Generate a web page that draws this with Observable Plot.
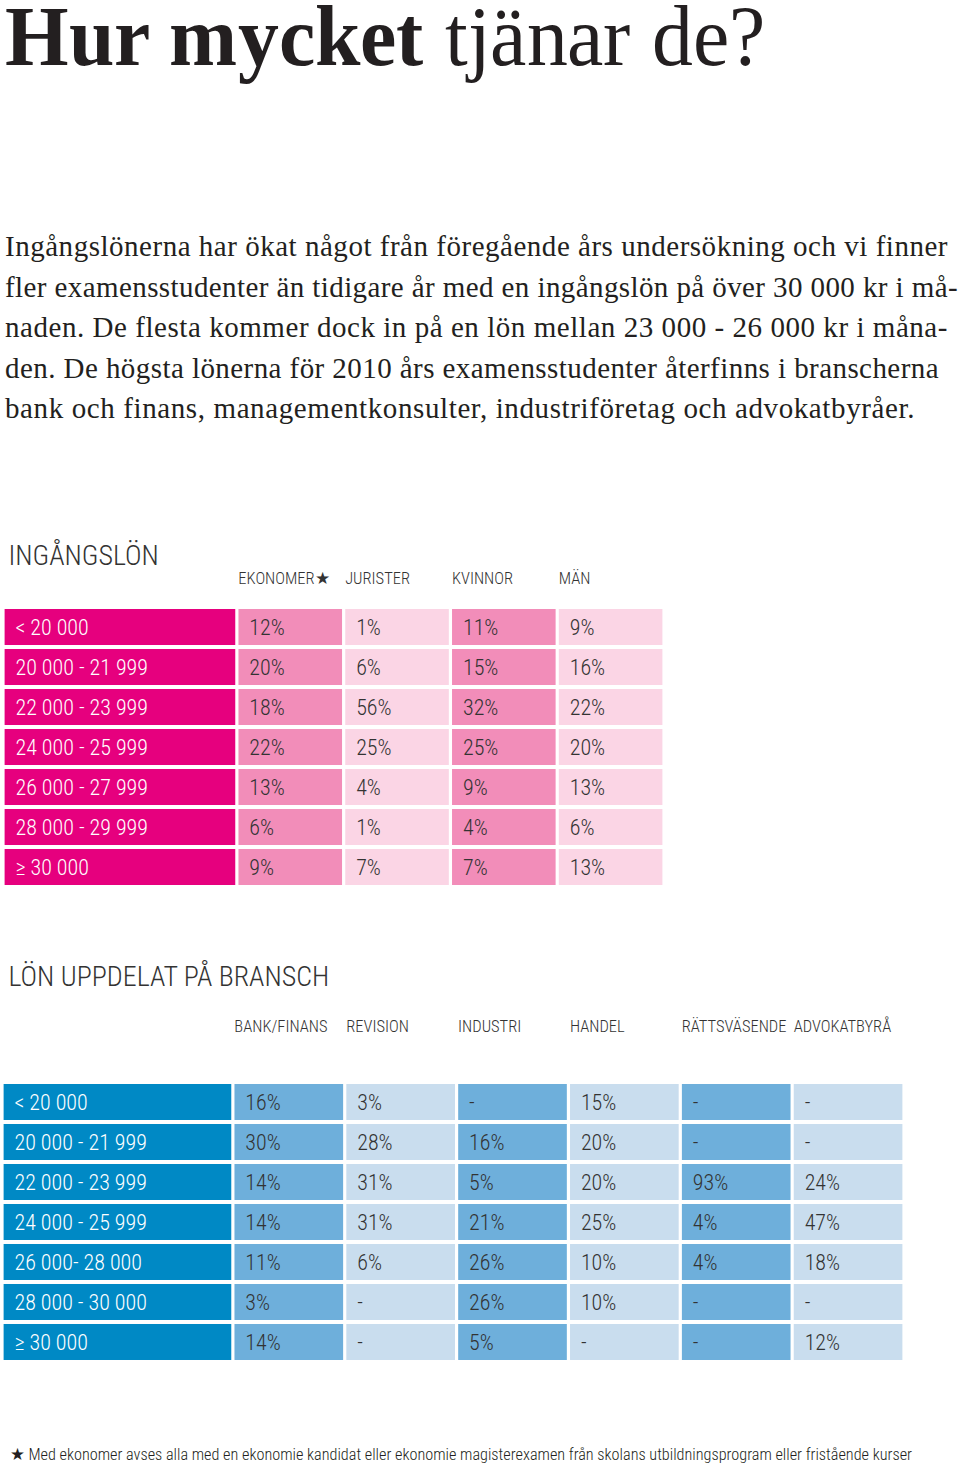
<!DOCTYPE html>
<html><head><meta charset="utf-8">
<script src="https://cdn.jsdelivr.net/npm/d3@7"></script>
<script src="https://cdn.jsdelivr.net/npm/@observablehq/plot@0.6"></script>
<style>
@font-face{font-family:"TitleSerif";src:local("Liberation Serif"),local("LiberationSerif");font-weight:400;ascent-override:70%;descent-override:25%;line-gap-override:0%;}
@font-face{font-family:"TitleSerif";src:local("Liberation Serif Bold"),local("LiberationSerif-Bold");font-weight:700;ascent-override:70%;descent-override:25%;line-gap-override:0%;}
body{margin:0;background:#fff;width:960px;height:1468px;position:relative;overflow:hidden;}
.abs{position:absolute;left:0;}
#title{font-family:"TitleSerif","Liberation Serif","DejaVu Serif",serif;font-size:86px;line-height:normal;color:#231f20;white-space:nowrap;transform-origin:0 0;}
#title b{font-weight:700;}
#para .line{font-family:"Liberation Serif","DejaVu Serif",serif;font-size:29px;line-height:40.5px;height:40.5px;white-space:nowrap;color:#231f20;}
#note{font-family:"Roboto Condensed",Roboto,sans-serif;font-weight:300;font-size:16.5px;line-height:20px;white-space:nowrap;color:#231f20;transform-origin:0 50%;}
</style></head><body>
<div id="title" class="abs" style="left:5px;top:5px"><b>Hur mycket</b> tjänar de?</div>
<div id="para" class="abs" style="left:5px;top:226px"></div>
<div id="chart1" class="abs" style="top:520px"></div>
<div id="chart2" class="abs" style="top:940px"></div>
<div id="note" class="abs" style="left:10px;top:1445px"></div>
<script>
// ---------- text ----------
const paragraphLines = [
  "Ingångslönerna har ökat något från föregående års undersökning och vi finner",
  "fler examensstudenter än tidigare år med en ingångslön på över 30 000 kr i må-",
  "naden. De flesta kommer dock in på en lön mellan 23 000 - 26 000 kr i måna-",
  "den. De högsta lönerna för 2010 års examensstudenter återfinns i branscherna",
  "bank och finans, managementkonsulter, industriföretag och advokatbyråer."
];
const footnote = "★ Med ekonomer avses alla med en ekonomie kandidat eller ekonomie magisterexamen från skolans utbildningsprogram eller fristående kurser";

// ---------- table 1: Ingångslön ----------
const title1 = "INGÅNGSLÖN";
const bands1 = ["< 20 000", "20 000 - 21 999", "22 000 - 23 999", "24 000 - 25 999", "26 000 - 27 999", "28 000 - 29 999", "≥ 30 000"];
const groups1 = ["EKONOMER★", "JURISTER", "KVINNOR", "MÄN"];
const ekonomer = [12, 20, 18, 22, 13, 6, 9];
const jurister = [1, 6, 56, 25, 4, 1, 7];
const kvinnor  = [11, 15, 32, 25, 9, 4, 7];
const man      = [9, 16, 22, 20, 13, 6, 13];

// ---------- table 2: Lön uppdelat på bransch ----------
const title2 = "LÖN UPPDELAT PÅ BRANSCH";
const bands2 = ["< 20 000", "20 000 - 21 999", "22 000 - 23 999", "24 000 - 25 999", "26 000- 28 000", "28 000 - 30 000", "≥ 30 000"];
const sectors = ["BANK/FINANS", "REVISION", "INDUSTRI", "HANDEL", "RÄTTSVÄSENDE", "ADVOKATBYRÅ"];
const bankFinans   = [16, 30, 14, 14, 11, 3, 14];
const revision     = [3, 28, 31, 31, 6, null, null];
const industri     = [null, 16, 5, 21, 26, 26, 5];
const handel       = [15, 20, 20, 25, 10, 10, null];
const rattsvasende = [null, null, 93, 4, 4, null, null];
const advokatbyra  = [null, null, 24, 47, 18, null, 12];

// ---------- paragraph (each line justified to its measured width) ----------
const para = document.getElementById("para");
const lineTargets = [943, 953, 943, 934, 910];
paragraphLines.forEach((t, i) => {
  const div = document.createElement("div");
  div.className = "line";
  const span = document.createElement("span");
  span.textContent = t;
  div.appendChild(span);
  para.appendChild(div);
  const w = span.getBoundingClientRect().width;
  span.style.letterSpacing = ((lineTargets[i] - w) / t.length) + "px";
});

// ---------- footnote / title fit ----------
const note = document.getElementById("note");
note.textContent = footnote;
{
  const w = note.getBoundingClientRect().width;
  note.style.transform = `scaleX(${902 / w})`;
}
{
  const t = document.getElementById("title");
  const w = t.getBoundingClientRect().width;
  t.style.transform = `scaleX(${760 / w})`;
}

// ---------- tables ----------
function buildCells(rows, cols, series, labelSpan) {
  const cells = [];
  rows.forEach((r, i) => {
    cells.push({row: r, x1: 0, x2: labelSpan, tone: "label", text: r});
    cols.forEach((c, k) => {
      const v = series[k][i];
      cells.push({row: r, x1: labelSpan + k, x2: labelSpan + k + 1, tone: k % 2 ? "light" : "mid", text: v == null ? "-" : v + "%"});
    });
  });
  return cells;
}

const tableFont = "'Roboto Condensed', Roboto, 'Liberation Sans', sans-serif";

function table({title, rows, cols, series, labelSpan, colors, marginLeft, marginRight, marginTop, marginBottom, rowPitch, titleDx, titleDy, headDy}) {
  const cells = buildCells(rows, cols, series, labelSpan);
  return Plot.plot({
    width: 960,
    height: marginTop + rows.length * rowPitch + marginBottom,
    marginLeft, marginRight, marginTop, marginBottom,
    x: {domain: [0, labelSpan + cols.length], axis: null},
    y: {domain: rows, axis: null, padding: 0},
    color: {domain: ["label", "mid", "light"], range: colors},
    style: {fontFamily: tableFont, background: "#fff", color: "#333"},
    marks: [
      Plot.barX(cells, {x1: "x1", x2: "x2", y: "row", fill: "tone", insetLeft: 1.6, insetRight: 1.6, insetTop: 2, insetBottom: 2}),
      Plot.text(cells.filter(d => d.tone === "label"), {x: "x1", y: "row", text: "text", textAnchor: "start", lineAnchor: "middle", dx: 12, fill: "#fff", fontSize: 22, fontWeight: 300}),
      Plot.text(cells.filter(d => d.tone !== "label"), {x: "x1", y: "row", text: "text", textAnchor: "start", lineAnchor: "middle", dx: 12, fill: "#333", fontSize: 22, fontWeight: 300}),
      Plot.text(cols, {x: c => labelSpan + cols.indexOf(c), text: c => c, frameAnchor: "top", lineAnchor: "middle", dy: headDy, dx: 1, textAnchor: "start", fill: "#333", fontSize: 16.5, fontWeight: 300}),
      Plot.text([title], {text: d => d, frameAnchor: "top-left", lineAnchor: "middle", dx: titleDx, dy: titleDy, textAnchor: "start", fill: "#333", fontSize: 28, fontWeight: 300})
    ]
  });
}

document.getElementById("chart1").appendChild(table({
  title: title1, rows: bands1, cols: groups1,
  series: [ekonomer, jurister, kvinnor, man],
  labelSpan: 2.19,
  colors: ["#e6007e", "#f28db9", "#fbd5e5"],
  marginLeft: 3, marginRight: 296, marginTop: 87, marginBottom: 10, rowPitch: 40,
  titleDx: 5, titleDy: -51, headDy: -29
}));

document.getElementById("chart2").appendChild(table({
  title: title2, rows: bands2, cols: sectors,
  series: [bankFinans, revision, industri, handel, rattsvasende, advokatbyra],
  labelSpan: 2.064,
  colors: ["#0089c5", "#6eafdb", "#c9ddee"],
  marginLeft: 2, marginRight: 56, marginTop: 141.3, marginBottom: 20, rowPitch: 40.3,
  titleDx: 6, titleDy: -104.3, headDy: -55.3
}));
</script>
</body></html>
